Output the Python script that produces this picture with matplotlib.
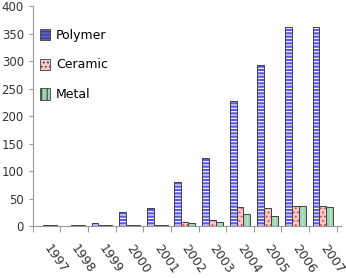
import numpy as np
import matplotlib.pyplot as plt
from matplotlib.transforms import ScaledTranslation

years = ['1997', '1998', '1999', '2000', '2001', '2002', '2003', '2004', '2005', '2006', '2007']
polymer = [0, 0, 6, 25, 32, 81, 124, 227, 293, 362, 363]
ceramic = [1, 1, 1, 1, 1, 7, 11, 34, 33, 37, 37]
metal = [1, 1, 1, 1, 1, 5, 8, 21, 19, 37, 34]

plt.rcParams['hatch.linewidth'] = 0.8
fig = plt.figure(figsize=(3.46, 2.78), dpi=100)
ax = fig.add_axes([0.095, 0.187, 0.89, 0.79])

x = np.arange(len(years))
w = 0.25
series = [
    (polymer, 'Polymer', '#5a5ae6', 'white', '-----'),
    (ceramic, 'Ceramic', '#f7c9c9', '#e04848', '....'),
    (metal, 'Metal', '#9fd4b4', '#b9e3ca', '|||'),
]
for i, (vals, name, fc, hc, hatch) in enumerate(series):
    pos = x + (i - 1) * w
    # fill + hatch first, then the dark outline on top
    ax.bar(pos, vals, w, color=fc, edgecolor=hc, hatch=hatch, linewidth=0)
    ax.bar(pos, vals, w, facecolor='none', edgecolor='#404040', linewidth=0.7)

leg_handles = []
for (vals, name, fc, hc, hatch) in series:
    leg_handles.append(plt.Rectangle((0, 0), 1, 1, facecolor=fc, edgecolor='#404040', hatch=hatch, lw=0.6))
ax.legend(leg_handles, [s[1] for s in series], loc='upper left', bbox_to_anchor=(-0.015, 0.95),
          frameon=False, fontsize=9, labelspacing=1.35, handlelength=0.8, handleheight=1.0,
          handletextpad=0.5)

ax.set_xlim(-0.5, len(years) - 0.35)
ax.set_ylim(0, 400)
ax.set_yticks(range(0, 401, 50))
ax.tick_params(axis='y', labelsize=8.5, labelcolor='#333333', length=3, width=0.8, color='#999999')
ax.set_xticks(x)
ax.set_xticklabels(years, rotation=-55, ha='left', va='top', rotation_mode='anchor', fontsize=9)
ax.tick_params(axis='x', length=0, pad=10, labelcolor='#333333')
shift = ScaledTranslation(5 / 100, -2 / 100, fig.dpi_scale_trans)
for lab in ax.get_xticklabels():
    lab.set_transform(lab.get_transform() + shift)
ax.set_xticks(np.arange(-0.5, len(years), 1), minor=True)
ax.tick_params(axis='x', which='minor', length=4, width=0.8, color='#999999')
for s in ['top', 'right']:
    ax.spines[s].set_visible(False)
for s in ['left', 'bottom']:
    ax.spines[s].set_color('#999999')

fig.savefig('out.png', dpi=100)
